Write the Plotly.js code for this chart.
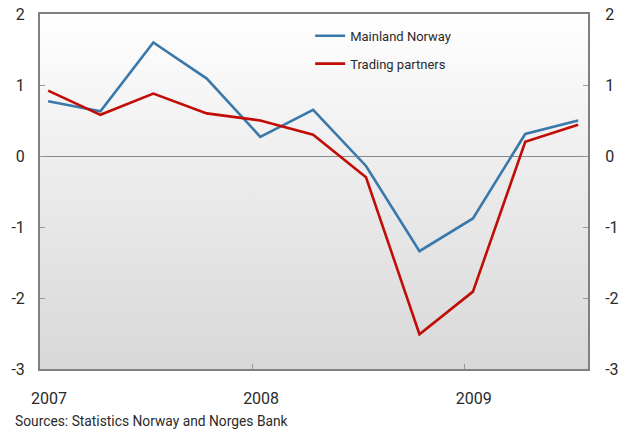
<!DOCTYPE html>
<html>
<head>
<meta charset="utf-8">
<script src="https://cdn.plot.ly/plotly-3.0.1.min.js"></script>
<style>
  html, body { margin: 0; padding: 0; background: #ffffff; }
  #chart {
    width: 622px; height: 429px;
    background-image: linear-gradient(to bottom, #ffffff 0%, #ececec 45%, #d8d8d8 100%);
    background-size: 548px 355px;
    background-position: 40px 14px;
    background-repeat: no-repeat;
  }
</style>
</head>
<body>
<div id="chart"></div>
<script>
// Quarterly observations (plotted mid-month of each quarter's first month)
const quarters = ['2007-01-15','2007-04-15','2007-07-15','2007-10-15',
                  '2008-01-15','2008-04-15','2008-07-15','2008-10-15',
                  '2009-01-15','2009-04-15','2009-07-15'];
const mainlandNorway  = [0.77, 0.63, 1.60, 1.09, 0.27, 0.65, -0.14, -1.34, -0.88, 0.31, 0.50];
const tradingPartners = [0.92, 0.58, 0.88, 0.60, 0.50, 0.30, -0.30, -2.51, -1.91, 0.20, 0.44];
const seriesNames = ['Mainland Norway', 'Trading partners'];
const yearTicks = ['2007-01-01', '2008-01-01', '2009-01-01'];
const yearLabels = ['2007', '2008', '2009'];
const yTicks = [-3, -2, -1, 0, 1, 2];
const yLabels = ['-3', '-2', '-1', '0', '1', '2'];
const sourceText = 'Sources: Statistics Norway and Norges Bank';

const tickFont = {family: 'Roboto, Liberation Sans, sans-serif', size: 16, color: '#2a2a2a'};
const textFont = 'Roboto, Liberation Sans, sans-serif';

const traces = [
  {x: quarters, y: mainlandNorway, name: seriesNames[0], type: 'scatter', mode: 'lines',
   line: {color: '#3b78aa', width: 2.6}, legendgroup: 'a'},
  {x: quarters, y: tradingPartners, name: seriesNames[1], type: 'scatter', mode: 'lines',
   line: {color: '#c10d06', width: 2.6}, legendgroup: 'b'},
  {x: quarters, y: mainlandNorway, yaxis: 'y2', type: 'scatter', mode: 'lines',
   line: {width: 0}, opacity: 0, showlegend: false, hoverinfo: 'skip'}
];

const layout = {
  width: 622, height: 429,
  margin: {l: 40, r: 34, t: 14, b: 60, pad: 0},
  paper_bgcolor: 'rgba(0,0,0,0)',
  plot_bgcolor: 'rgba(0,0,0,0)',
  showlegend: true,
  legend: {
    x: 0.493, y: 0.981, xanchor: 'left', yanchor: 'top',
    bgcolor: 'rgba(0,0,0,0)', borderwidth: 0,
    font: {family: textFont, size: 13, color: '#2a2a2a'},
    traceorder: 'grouped', tracegroupgap: 8
  },
  xaxis: {
    type: 'date',
    range: ['2007-01-01', '2009-08-01'],
    tickmode: 'array', tickvals: yearTicks, ticktext: yearLabels,
    ticks: 'inside', ticklen: 5, tickwidth: 1, tickcolor: '#999999',
    ticklabelshift: 9, ticklabelstandoff: 14,
    showgrid: false, zeroline: false,
    showline: true, linecolor: '#808080', linewidth: 2, mirror: true,
    tickfont: tickFont, fixedrange: true
  },
  yaxis: {
    range: [-3, 2],
    tickmode: 'array', tickvals: yTicks, ticktext: yLabels,
    ticks: 'inside', ticklen: 5, tickwidth: 1, tickcolor: '#999999',
    ticklabelstandoff: 10,
    showgrid: false,
    zeroline: true, zerolinecolor: '#8a8a8a', zerolinewidth: 1,
    showline: true, linecolor: '#808080', linewidth: 2,
    tickfont: tickFont, fixedrange: true
  },
  yaxis2: {
    range: [-3, 2], overlaying: 'y', side: 'right',
    tickmode: 'array', tickvals: yTicks, ticktext: yLabels,
    ticks: 'inside', ticklen: 5, tickwidth: 1, tickcolor: '#999999',
    ticklabelstandoff: 12,
    showgrid: false, zeroline: false,
    showline: true, linecolor: '#808080', linewidth: 2,
    tickfont: tickFont, fixedrange: true
  },
  annotations: [{
    text: sourceText, xref: 'paper', yref: 'paper',
    x: 0, y: 0, xanchor: 'left', yanchor: 'middle',
    xshift: -27, yshift: -52, showarrow: false,
    font: {family: textFont, size: 13.8, color: '#2a2a2a'}
  }]
};

Plotly.newPlot('chart', traces, layout, {displayModeBar: false, staticPlot: true});
</script>
</body>
</html>
